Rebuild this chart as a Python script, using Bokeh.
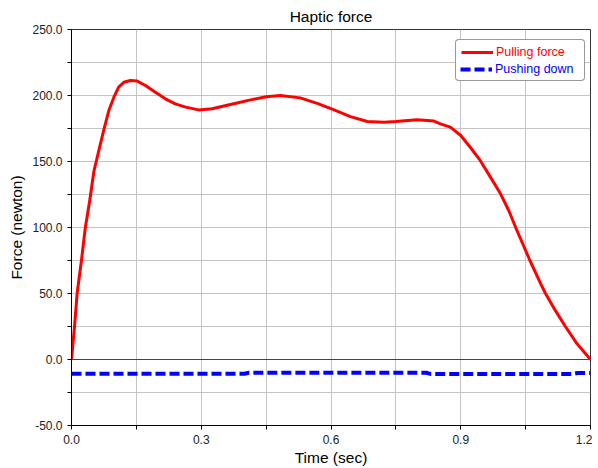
from bokeh.plotting import figure
from bokeh.models import (Legend, LegendItem, FixedTicker, CustomJSTickFormatter,
                          Span, Range1d)
from bokeh.embed import file_html
from bokeh.resources import INLINE

# ---- data ----
pull_t = [0.0, 0.007, 0.013, 0.023, 0.032, 0.042, 0.052, 0.0747, 0.0863, 0.098,
          0.109, 0.121, 0.136, 0.152, 0.171, 0.194, 0.217, 0.240, 0.264, 0.294,
          0.325, 0.375, 0.414, 0.450, 0.483, 0.529, 0.568, 0.600, 0.645, 0.684,
          0.722, 0.750, 0.799, 0.838, 0.853, 0.876, 0.900, 0.922, 0.945, 0.969,
          0.992, 1.011, 1.027, 1.060, 1.085, 1.096, 1.119, 1.142, 1.169, 1.200]
pull_f = [0.0, 25.0, 50.0, 75.0, 100.0, 120.0, 143.0, 174.0, 188.6, 198.7,
          206.3, 210.0, 211.4, 210.9, 207.6, 202.5, 197.5, 193.7, 191.2, 189.1,
          189.9, 193.7, 196.7, 199.0, 200.0, 198.2, 194.0, 190.0, 184.0, 180.3,
          179.8, 180.3, 181.6, 180.6, 178.5, 176.0, 169.7, 160.8, 150.8, 138.0,
          125.5, 112.9, 100.0, 75.0, 57.3, 50.0, 37.0, 25.0, 11.9, 0.0]

push_t = [0.0, 0.40, 0.41, 0.82, 0.83, 1.16, 1.17, 1.20]
push_f = [-10.8, -10.8, -10.0, -10.0, -10.9, -10.9, -10.2, -10.2]

x_ticks = [0.0, 0.15, 0.3, 0.45, 0.6, 0.75, 0.9, 1.05, 1.2]
y_ticks = [-50.0, -25.0, 0.0, 25.0, 50.0, 75.0, 100.0, 125.0, 150.0, 175.0,
           200.0, 225.0, 250.0]

title_text = "Haptic force"
x_label = "Time (sec)"
y_label = "Force (newton)"
pull_label = "Pulling force"
push_label = "Pushing down"

FONT = "Liberation Sans"

p = figure(width=592, height=468, x_range=Range1d(0, 1.2), y_range=Range1d(-50, 250),
           output_backend="svg", toolbar_location=None, title=title_text,
           min_border_left=71, min_border_right=2, min_border_top=29,
           min_border_bottom=43)

p.background_fill_color = "white"
p.border_fill_color = "white"
p.outline_line_color = "#333333"
p.outline_line_width = 1

p.title.align = "center"
p.title.text_font = FONT
p.title.text_font_style = "normal"
p.title.text_font_size = "15.5px"
p.title.text_color = "black"
p.title.standoff = 9
p.title.offset = 0

# axes
p.xaxis.ticker = FixedTicker(ticks=x_ticks)
p.yaxis.ticker = FixedTicker(ticks=y_ticks)
p.xaxis.formatter = CustomJSTickFormatter(code="""
const k = Math.round(tick / 0.3);
return Math.abs(tick - k * 0.3) < 1e-6 ? tick.toFixed(1) : "";
""")
p.yaxis.formatter = CustomJSTickFormatter(code="""
const k = Math.round(tick / 50);
return Math.abs(tick - k * 50) < 1e-6 ? tick.toFixed(1) : "";
""")
for ax in (p.xaxis, p.yaxis):
    ax.minor_tick_line_color = None
    ax.major_tick_in = 0
    ax.major_tick_out = 4
    ax.major_tick_line_color = "black"
    ax.axis_line_color = "black"
    ax.major_label_text_font = FONT
    ax.major_label_text_font_size = "12px"
    ax.major_label_text_color = "#222222"
    ax.axis_label_text_font = FONT
    ax.axis_label_text_font_size = "15.5px"
    ax.axis_label_text_font_style = "normal"
    ax.axis_label_text_color = "black"
p.xaxis.major_label_standoff = 5
p.xaxis.axis_label_standoff = 2
p.yaxis.major_label_standoff = 5
p.yaxis.axis_label_standoff = 4
p.xaxis.axis_label = x_label
p.yaxis.axis_label = y_label

p.xgrid.grid_line_color = "#c4c4c4"
p.ygrid.grid_line_color = "#c4c4c4"
p.xgrid.grid_line_width = 1
p.ygrid.grid_line_width = 1

zero = Span(location=0, dimension="width", line_color="#444444", line_width=1,
            level="underlay")
p.add_layout(zero)

r_pull = p.line(pull_t, pull_f, line_color="#ff0000", line_width=3,
                line_join="round")
r_push = p.line(push_t, push_f, line_color="#0000ff", line_width=4, line_dash="10 4")

leg_x, leg_y, pad = 384, 344, 5
common = dict(glyph_width=32, glyph_height=14, label_height=14, label_width=83,
              label_standoff=3, label_text_font=FONT, label_text_font_size="12.5px",
              margin=0, background_fill_color="white", background_fill_alpha=1.0)

legA = Legend(items=[LegendItem(label=pull_label, renderers=[r_pull]),
                     LegendItem(label=push_label, renderers=[r_push])],
              location=(leg_x, leg_y), padding=pad, spacing=2,
              label_text_color="#ff0000", border_line_color="#333333",
              border_line_width=1, **common)
try:
    legA.border_radius = 4
except Exception:
    pass
legB = Legend(items=[LegendItem(label=push_label, renderers=[r_push])],
              location=(leg_x + pad, leg_y + pad), padding=0, spacing=0,
              label_text_color="#0000ff", border_line_color=None, **common)
p.add_layout(legA, "center")
p.add_layout(legB, "center")

open("out.html", "w").write(file_html(p, INLINE))
